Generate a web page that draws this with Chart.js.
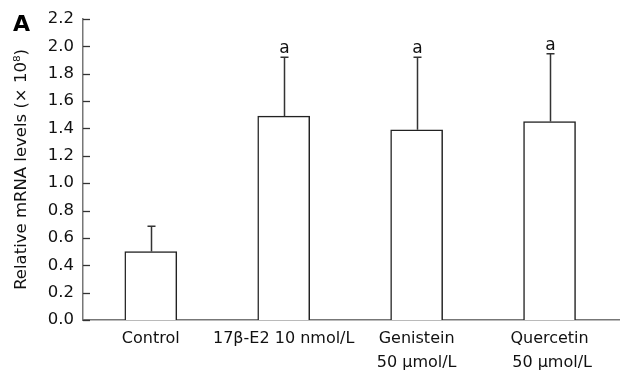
<!DOCTYPE html>
<html>
<head>
<meta charset="utf-8">
<script src="https://cdn.jsdelivr.net/npm/chart.js@4.4.0/dist/chart.umd.min.js"></script>
<style>
html,body{margin:0;padding:0;background:#fff;}
#wrap{width:620px;height:371px;position:relative;}
</style>
</head>
<body>
<div id="wrap"><canvas id="c" width="620" height="371"></canvas></div>
<script>
// Data
const categories = [["Control"], ["17\u03B2-E2 10 nmol/L"], ["Genistein", "50 \u03BCmol/L"], ["Quercetin", " 50 \u03BCmol/L"]];
const positions = [1, 2, 3, 4];
const means = [0.50, 1.49, 1.39, 1.45];
const sdUpper = [0.185, 0.43, 0.53, 0.495];
const marks = ["", "a", "a", "a"];
const yTicks = [0, 0.2, 0.4, 0.6, 0.8, 1.0, 1.2, 1.4, 1.6, 1.8, 2.0, 2.2];

const FONT = "'DejaVu Sans', Verdana, sans-serif";

const extras = {
  id: 'extras',
  afterDatasetsDraw(chart) {
    const ctx = chart.ctx;
    const y = chart.scales.y;
    const area = chart.chartArea;
    const meta = chart.getDatasetMeta(0);
    ctx.save();
    // inward y ticks
    ctx.strokeStyle = '#333';
    ctx.lineWidth = 1.3;
    yTicks.forEach(v => {
      const py = Math.round(y.getPixelForValue(v)) + 0.5;
      ctx.beginPath();
      ctx.moveTo(area.left, py);
      ctx.lineTo(area.left + 7, py);
      ctx.stroke();
    });
    // error bars (upper only)
    ctx.strokeStyle = '#333';
    ctx.lineWidth = 1.5;
    meta.data.forEach((bar, i) => {
      const px = Math.round(bar.x) + 0.5;
      const top = y.getPixelForValue(means[i]);
      const e = y.getPixelForValue(means[i] + sdUpper[i]);
      ctx.beginPath();
      ctx.moveTo(px, top);
      ctx.lineTo(px, e);
      ctx.moveTo(px - 4, e);
      ctx.lineTo(px + 4, e);
      ctx.stroke();
      if (marks[i]) {
        ctx.fillStyle = '#111';
        ctx.font = '17px ' + FONT;
        ctx.textAlign = 'center';
        ctx.textBaseline = 'alphabetic';
        ctx.fillText(marks[i], px, e - 4);
      }
    });
    // panel letter
    ctx.fillStyle = '#000';
    ctx.font = 'bold 22px ' + FONT;
    ctx.textAlign = 'left';
    ctx.textBaseline = 'alphabetic';
    ctx.fillText('A', 13, 31);
    ctx.restore();
  }
};

new Chart(document.getElementById('c'), {
  type: 'bar',
  data: {
    datasets: [{
      data: positions.map((p, i) => ({ x: p, y: means[i] })),
      backgroundColor: '#ffffff',
      borderColor: '#222',
      borderWidth: 1.5,
      borderSkipped: 'bottom',
      barThickness: 52
    }]
  },
  options: {
    responsive: false,
    animation: false,
    devicePixelRatio: 1,
    layout: { padding: { top: 15.5, right: 0, bottom: 0, left: 0 } },
    plugins: { legend: { display: false }, tooltip: { enabled: false } },
    scales: {
      x: {
        type: 'linear',
        min: 0.49,
        max: 4.53,
        offset: false,
        grid: { display: false, drawTicks: false },
        border: { display: true, color: '#777', width: 1.5 },
        afterBuildTicks(scale) { scale.ticks = positions.map(v => ({ value: v })); },
        ticks: {
          color: '#111',
          font: { family: FONT, size: 16, lineHeight: 1.5 },
          padding: 7,
          maxRotation: 0,
          autoSkip: false,
          callback: v => categories[positions.indexOf(v)] || ''
        },
        afterFit(scale) { scale.height = 51; }
      },
      y: {
        min: 0,
        max: 2.2,
        grid: { display: false, drawTicks: false },
        border: { display: true, color: '#777', width: 1.5 },
        afterBuildTicks(scale) { scale.ticks = yTicks.map(v => ({ value: v })); },
        ticks: {
          color: '#111',
          font: { family: FONT, size: 16.5 },
          padding: 9,
          callback: v => Number(v).toFixed(1)
        },
        title: {
          display: true,
          text: 'Relative mRNA levels (\u00D7 10\u2078)',
          color: '#111',
          font: { family: FONT, size: 16.5 },
          padding: { top: 12, bottom: 0 }
        },
        afterFit(scale) { scale.width = 83; }
      }
    }
  },
  plugins: [extras]
});
</script>
</body>
</html>
